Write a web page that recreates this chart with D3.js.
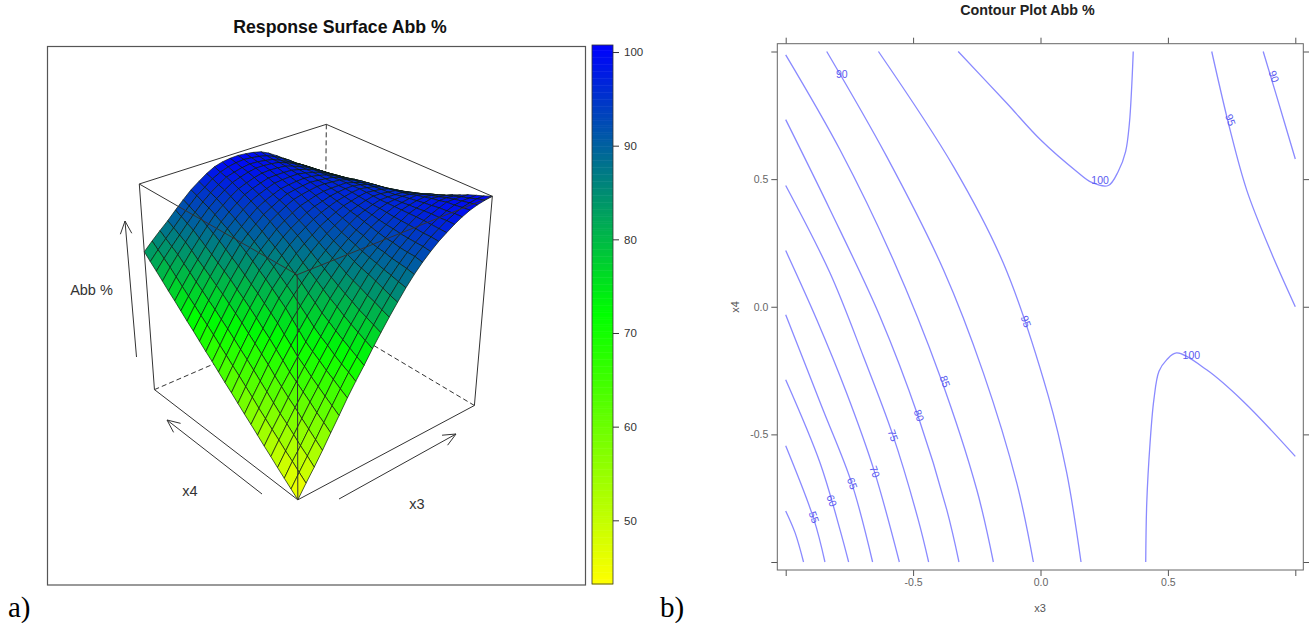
<!DOCTYPE html>
<html>
<head>
<meta charset="utf-8">
<style>
  body { margin: 0; background: #fff; }
  text { font-family: "Liberation Sans", Arial, sans-serif; }
</style>
<script src="https://cdn.jsdelivr.net/npm/d3@7"></script>
</head>
<body>
<div id="chart"></div>
<script>
// Abb %, rows run along x4 from -1 to 1, columns along x3 from -1 to 1
const surfaceZ = [
  [43.2,46.7,50,53.5,57.2,60.8,64.5,67.9,71.1,74.5,77.7,80.8,83.7,86.5,89,91.2,93.1,94.8,96.2,97.5,98.6,99.5,100.1,100.5,100.75],
  [44.8,48.3,51.7,55.1,58.7,62.2,65.7,69.1,72.2,75.5,78.6,81.6,84.4,87,89.5,91.7,93.4,95,96.3,97.5,98.5,99.3,99.7,100,100],
  [46.4,50,53.2,56.7,60.1,63.5,67,70.1,73.3,76.5,79.5,82.5,85.2,87.6,89.8,91.8,93.5,95,96.4,97.4,98.3,99,99.3,99.3,99.3],
  [48,51.5,54.9,58.3,61.7,64.9,68.2,71.3,74.4,77.5,80.3,83.2,86,88.1,90.1,92,93.6,95.2,96.5,97.4,98.2,98.9,98.9,98.8,98.6],
  [49.7,53.2,56.6,60,63.2,66.3,69.6,72.7,75.6,78.6,81.4,84.1,86.7,88.7,90.6,92.4,93.8,95.3,96.5,97.3,97.9,98.4,98.4,98.1,97.7],
  [51.3,54.8,58.1,61.5,64.7,67.9,70.9,73.9,76.9,79.9,82.4,84.9,87.3,89.2,90.9,92.6,94.1,95.4,96.5,97.1,97.7,98.1,97.8,97.4,96.9],
  [53,56.5,59.8,63.2,66.2,69.3,72.3,75.3,78.1,81,83.5,85.8,88,89.8,91.4,93,94.3,95.5,96.5,97,97.4,97.6,97.3,96.7,96],
  [54.7,58.1,61.6,64.9,68.1,71.2,74.2,77.1,79.7,82.3,84.6,86.9,88.9,90.5,92.1,93.5,94.6,95.7,96.5,96.8,97.1,97.2,96.7,96.1,95.2],
  [56.3,59.9,63.3,66.8,69.9,73,76.1,78.7,81.2,83.7,85.8,87.8,89.6,91.2,92.6,94,95,95.9,96.5,96.7,96.8,96.6,96.1,95.3,94.5],
  [58,61.6,65.1,68.5,71.7,74.9,78,80.5,82.8,85,87,88.8,90.5,91.9,93.3,94.5,95.3,96,96.5,96.5,96.4,96.2,95.5,94.7,93.7],
  [59.7,63.3,66.8,70.2,73.3,76.5,79.5,82,84.2,86.3,88.2,89.9,91.4,92.7,93.9,94.9,95.6,96.2,96.6,96.5,96.2,95.9,95,94.1,93],
  [61.3,64.9,68.4,71.8,75,78,81,83.4,85.6,87.7,89.4,90.9,92.4,93.5,94.5,95.4,95.9,96.4,96.7,96.4,96.1,95.5,94.6,93.5,92.2],
  [63,66.6,70.1,73.5,76.6,79.6,82.5,84.9,87,89,90.6,92,93.3,94.3,95.1,95.8,96.2,96.6,96.8,96.4,95.9,95.2,94.1,92.9,91.5],
  [64.7,68.2,71.7,75,78.1,81,83.8,86.1,88.2,90.1,91.6,92.9,94.1,95,95.6,96.2,96.5,96.7,96.7,96.3,95.7,94.9,93.7,92.4,91],
  [66.3,69.9,73.2,76.5,79.5,82.4,85.2,87.4,89.3,91.2,92.6,93.9,95,95.6,96.2,96.6,96.7,96.7,96.7,96.1,95.4,94.6,93.4,92,90.5],
  [68,71.5,74.8,78,81,83.8,86.5,88.6,90.5,92.3,93.6,94.8,95.8,96.3,96.7,97,97,96.8,96.6,96,95.2,94.3,93,91.5,90],
  [69.7,73,76.2,79.3,82.3,85,87.7,89.7,91.5,93.2,94.4,95.5,96.4,96.8,97.1,97.3,97.1,96.8,96.5,95.7,94.8,93.9,92.6,91.1,89.6],
  [71.3,74.6,77.7,80.7,83.5,86.3,88.8,90.7,92.5,94.1,95.2,96.1,96.9,97.2,97.4,97.5,97.3,96.9,96.3,95.5,94.5,93.4,92.1,90.7,89.3],
  [73,76.1,79.1,82,84.8,87.5,90,91.8,93.5,95,96,96.8,97.5,97.7,97.8,97.8,97.4,96.9,96.2,95.2,94.1,93,91.7,90.3,88.9],
  [74.7,77.7,80.6,83.3,86,88.6,90.9,92.7,94.3,95.8,96.7,97.4,98,98.1,98.1,98,97.5,96.9,96.1,95,93.8,92.7,91.4,90,88.6],
  [76.3,79.3,82,84.7,87.2,89.6,91.9,93.6,95.2,96.5,97.3,98,98.5,98.6,98.5,98.3,97.6,96.8,95.9,94.8,93.6,92.3,91,89.6,88.2],
  [78,80.9,83.5,86,88.4,90.7,92.8,94.5,96,97.3,98,98.6,99,99,98.8,98.5,97.7,96.8,95.8,94.6,93.3,92,90.7,89.3,87.9],
  [79.7,82.3,84.7,87,89.3,91.5,93.5,95.2,96.6,97.9,98.5,99,99.3,99.2,98.9,98.5,97.6,96.6,95.5,94.3,93,91.7,90.4,89,87.6],
  [81.3,83.7,85.9,88,90.2,92.3,94.3,95.8,97.3,98.4,99.1,99.5,99.7,99.5,99.2,98.7,97.8,96.7,95.5,94,92.8,91.5,90.1,88.7,87.3],
  [83,85.1,87.1,89,91.1,93.1,95,96.5,97.9,99,99.6,99.9,100,99.8,99.5,99,98,96.7,95.3,93.8,92.5,91.2,89.8,88.4,87]
];

const Z_LIMITS = [43.2, 100.75];
const colorStops = [43.2, 72, 100.75];
const colorNames = ["#ffff00", "#00ff00", "#0000ff"];
const colorbarTicks = [50, 60, 70, 80, 90, 100];
const axisTicks = [-1, -0.5, 0, 0.5, 1];

// contour lines as [x3, x4]
const contour50 = [[-1,-0.8],[-0.963,-0.886],[-0.93,-1]];
const contour55 = [[-1,-0.545],[-0.889,-0.834],[-0.846,-1]];
const contour60 = [[-1,-0.286],[-0.865,-0.612],[-0.787,-0.873],[-0.753,-1]];
const contour65 = [[-1,-0.031],[-0.859,-0.39],[-0.741,-0.691],[-0.659,-1]];
const contour70 = [[-1,0.22],[-0.878,-0.051],[-0.761,-0.338],[-0.652,-0.645],[-0.554,-1]];
const contour75 = [[-1,0.475],[-0.826,0.132],[-0.695,-0.195],[-0.58,-0.501],[-0.48,-0.834],[-0.439,-1]];
const contour80 = [[-1,0.733],[-0.826,0.38],[-0.63,-0.038],[-0.48,-0.43],[-0.368,-0.795],[-0.32,-1]];
const contour85 = [[-1,0.987],[-0.787,0.615],[-0.578,0.184],[-0.394,-0.273],[-0.25,-0.717],[-0.185,-1]];
const contour90 = [[-0.839,1],[-0.604,0.589],[-0.381,0.145],[-0.224,-0.26],[-0.093,-0.691],[-0.028,-1]];
const contour95 = [[-0.636,1],[-0.342,0.55],[-0.146,0.171],[0.031,-0.351],[0.103,-0.651],[0.159,-1]];
const contour100Top = [[-0.323,1],[-0.133,0.798],[0,0.654],[0.142,0.53],[0.201,0.487],[0.266,0.475],[0.305,0.53],[0.334,0.608],[0.349,0.72],[0.358,0.863],[0.364,1]];
const contour100Low = [[0.413,-1],[0.417,-0.769],[0.43,-0.534],[0.445,-0.364],[0.465,-0.253],[0.495,-0.208],[0.534,-0.181],[0.652,-0.247],[0.796,-0.371],[1,-0.586]];
const contour95Right = [[0.672,1],[0.744,0.693],[0.809,0.458],[0.901,0.223],[1,0]];
const contour90Right = [[0.874,1],[0.927,0.824],[1,0.579]];

const contourLines = [contour50, contour55, contour60, contour65, contour70, contour75, contour80,
  contour85, contour90, contour95, contour100Top, contour100Low, contour95Right, contour90Right];

const labelTexts = ["55", "60", "65", "70", "75", "80", "85", "90", "95", "95", "90", "100", "100"];
const labelX3 = [-0.889, -0.819, -0.739, -0.651, -0.579, -0.477, -0.375, -0.78, -0.057, 0.746, 0.916, 0.234, 0.592];
const labelX4 = [-0.825, -0.76, -0.692, -0.646, -0.504, -0.426, -0.293, 0.911, -0.058, 0.732, 0.902, 0.495, -0.189];

// box corners as [x3, x4, z(-1 bottom, 1 top)] and where they sit on the page, used to fit the camera
const boxCorners = [[-1,-1,1],[1,-1,1],[-1,1,1],[1,1,1],[-1,-1,-1],[1,-1,-1],[-1,1,-1],[1,1,-1]];
const boxPixels = [[296,274],[492.3,197.3],[139.3,184],[327.3,124],[298.3,500],[475,405],[155,390],[323,316]];

const fitCamera = (world, pixels) => {
  const rows = [];
  const rhs = [];
  world.forEach(([x, y, z], i) => {
    const [u, v] = pixels[i];
    rows.push([x, y, z, 1, 0, 0, 0, 0, -u * x, -u * y, -u * z]);
    rhs.push(u);
    rows.push([0, 0, 0, 0, x, y, z, 1, -v * x, -v * y, -v * z]);
    rhs.push(v);
  });
  const n = 11;
  const m = d3.range(n).map(a =>
    d3.range(n + 1).map(b =>
      b < n ? d3.sum(rows, r => r[a] * r[b]) : d3.sum(rows, (r, k) => r[a] * rhs[k])));
  for (let c = 0; c < n; c++) {
    const pivot = d3.greatest(d3.range(c, n), r => Math.abs(m[r][c]));
    [m[c], m[pivot]] = [m[pivot], m[c]];
    for (let r = 0; r < n; r++) {
      if (r === c) continue;
      const k = m[r][c] / m[c][c];
      for (let q = c; q <= n; q++) m[r][q] -= k * m[c][q];
    }
  }
  return d3.range(n).map(i => m[i][n] / m[i][i]);
};

const drawSurface = svg => {
  const cam = fitCamera(boxCorners, boxPixels);
  const zScale = d3.scaleLinear().domain(Z_LIMITS).range([-1, 1]);
  const gridScale = d3.scaleLinear().domain([0, surfaceZ.length - 1]).range([-1, 1]);
  const project = (x, y, z) => {
    const w = cam[8] * x + cam[9] * y + cam[10] * z + 1;
    return [(cam[0] * x + cam[1] * y + cam[2] * z + cam[3]) / w,
            (cam[4] * x + cam[5] * y + cam[6] * z + cam[7]) / w];
  };
  const gridPoint = (i, j) => project(gridScale(i), gridScale(j), zScale(surfaceZ[j][i]));
  const color = d3.scaleLinear().domain(colorStops).range(colorNames);
  const path = d3.line();

  svg.append("rect")
    .attr("x", 47.5).attr("y", 46.5).attr("width", 538).attr("height", 538.5)
    .attr("fill", "none").attr("stroke", "#555").attr("stroke-width", 1.2);

  svg.append("text").attr("x", 340).attr("y", 33).attr("text-anchor", "middle")
    .attr("font-size", 17.7).attr("font-weight", "bold").attr("fill", "#111")
    .text("Response Surface Abb %");

  const edge = (a, b, dashed) => svg.append("path")
    .attr("d", path([project(...boxCorners[a]), project(...boxCorners[b])]))
    .attr("stroke", "#333").attr("stroke-width", 1).attr("fill", "none")
    .attr("stroke-dasharray", dashed ? "5,3" : null);

  // hidden edges go under the surface
  edge(6, 7, true); edge(5, 7, true); edge(3, 7, true);
  edge(2, 3); edge(3, 1);

  // back to front, back corner is the last grid point
  const cells = [];
  for (let j = surfaceZ.length - 2; j >= 0; j--) {
    for (let i = surfaceZ.length - 2; i >= 0; i--) cells.push([i, j]);
  }
  svg.append("g").selectAll("path").data(cells).enter().append("path")
    .attr("d", ([i, j]) => path([gridPoint(i, j), gridPoint(i + 1, j), gridPoint(i + 1, j + 1), gridPoint(i, j + 1)]) + "Z")
    .attr("fill", ([i, j]) => color(d3.mean([surfaceZ[j][i], surfaceZ[j][i + 1], surfaceZ[j + 1][i], surfaceZ[j + 1][i + 1]])))
    .attr("stroke", "#0c1a0c").attr("stroke-width", 0.7).attr("stroke-linejoin", "round");

  edge(0, 2); edge(0, 1); edge(0, 4); edge(2, 6); edge(1, 5); edge(4, 6); edge(4, 5);

  const arrow = (from, to) => {
    const a = Math.atan2(to[1] - from[1], to[0] - from[0]);
    const head = s => [to[0] - 14 * Math.cos(a + s), to[1] - 14 * Math.sin(a + s)];
    svg.append("path")
      .attr("d", path([from, to]) + path([head(0.42), to, head(-0.42)]))
      .attr("fill", "none").attr("stroke", "#333").attr("stroke-width", 1);
  };
  arrow([136.5, 357], [125, 221]);
  arrow([262, 494], [167, 420]);
  arrow([339, 499], [456, 434]);

  const note = (x, y, t) => svg.append("text").attr("x", x).attr("y", y)
    .attr("text-anchor", "middle").attr("font-size", 14.5).attr("fill", "#333").text(t);
  note(91.5, 295, "Abb %");
  note(190, 496, "x4");
  note(417, 509, "x3");

  // colour key
  const keyY = d3.scaleLinear().domain(Z_LIMITS).range([584, 45]);
  const keySteps = d3.range(Z_LIMITS[0], Z_LIMITS[1], 0.25);
  svg.append("g").selectAll("rect").data(keySteps).enter().append("rect")
    .attr("x", 592).attr("width", 21)
    .attr("y", d => keyY(Math.min(d + 0.25, Z_LIMITS[1])))
    .attr("height", d => keyY(d) - keyY(Math.min(d + 0.25, Z_LIMITS[1])) + 0.5)
    .attr("fill", d => color(d));
  svg.append("rect").attr("x", 592).attr("y", 45).attr("width", 21).attr("height", 539)
    .attr("fill", "none").attr("stroke", "#333").attr("stroke-width", 0.8);
  const keyAxis = svg.append("g").attr("transform", "translate(613,0)")
    .call(d3.axisRight(keyY).tickValues(colorbarTicks).tickSize(6).tickSizeOuter(0));
  keyAxis.select(".domain").remove();
  keyAxis.selectAll("line").attr("stroke", "#333");
  keyAxis.selectAll("text").attr("font-size", 11.5).attr("fill", "#333")
    .attr("font-family", "Liberation Sans").attr("x", 11);
};

const drawContours = svg => {
  const x = d3.scaleLinear().domain([-1, 1]).range([785.7, 1295.3]);
  const y = d3.scaleLinear().domain([-1, 1]).range([562, 51.5]);
  const line = d3.line().x(d => x(d[0])).y(d => y(d[1])).curve(d3.curveCatmullRom.alpha(0.5));

  svg.append("text").attr("x", 1027.5).attr("y", 15).attr("text-anchor", "middle")
    .attr("font-size", 14.3).attr("font-weight", "bold").attr("fill", "#222")
    .text("Contour Plot Abb %");

  svg.append("g").selectAll("path").data(contourLines).enter().append("path")
    .attr("d", line).attr("fill", "none").attr("stroke", "#8a8aff").attr("stroke-width", 1.3);

  svg.append("g").selectAll("text").data(labelTexts).enter().append("text")
    .attr("text-anchor", "middle").attr("dy", "0.35em")
    .attr("font-size", 10.5).attr("fill", "#5a5af0")
    .attr("transform", (d, i) => {
      const flat = d === "100" || (d === "90" && labelX3[i] < 0);
      return `translate(${x(labelX3[i])},${y(labelX4[i])}) rotate(${flat ? 0 : 70})`;
    })
    .text(d => d);

  const fmt = v => (Math.abs(v) === 1 ? "" : v.toFixed(1));
  const sideAxes = [
    [d3.axisBottom(x).tickFormat(fmt), "translate(0,570)"],
    [d3.axisTop(x).tickFormat(""), "translate(0,43.7)"],
    [d3.axisLeft(y).tickFormat(fmt), "translate(777.3,0)"],
    [d3.axisRight(y).tickFormat(""), "translate(1303.3,0)"]
  ];
  sideAxes.forEach(([axis, move]) => {
    const g = svg.append("g").attr("transform", move)
      .call(axis.tickValues(axisTicks).tickSize(6).tickSizeOuter(0));
    g.select(".domain").remove();
    g.selectAll("line").attr("stroke", "#555");
    g.selectAll("text").attr("font-size", 10.5).attr("fill", "#666").attr("font-family", "Liberation Sans");
  });
  svg.append("rect").attr("x", 777.3).attr("y", 43.7).attr("width", 526).attr("height", 526.3)
    .attr("fill", "none").attr("stroke", "#666").attr("stroke-width", 1);

  svg.append("text").attr("x", 1040).attr("y", 612).attr("text-anchor", "middle")
    .attr("font-size", 11).attr("fill", "#555").text("x3");
  svg.append("text").attr("transform", "translate(739,307) rotate(-90)").attr("text-anchor", "middle")
    .attr("font-size", 11).attr("fill", "#555").text("x4");
};

const main = () => {
  const svg = d3.select("#chart").append("svg")
    .attr("width", 1309).attr("height", 623).style("display", "block");

  drawSurface(svg);
  drawContours(svg);

  [["a)", 8], ["b)", 660]].forEach(([t, px]) => {
    svg.append("text").attr("x", px).attr("y", 617)
      .style("font-family", "'Liberation Serif', serif").attr("font-size", 29).attr("fill", "#000").text(t);
  });
};
window.onload = main;
</script>
</body>
</html>
